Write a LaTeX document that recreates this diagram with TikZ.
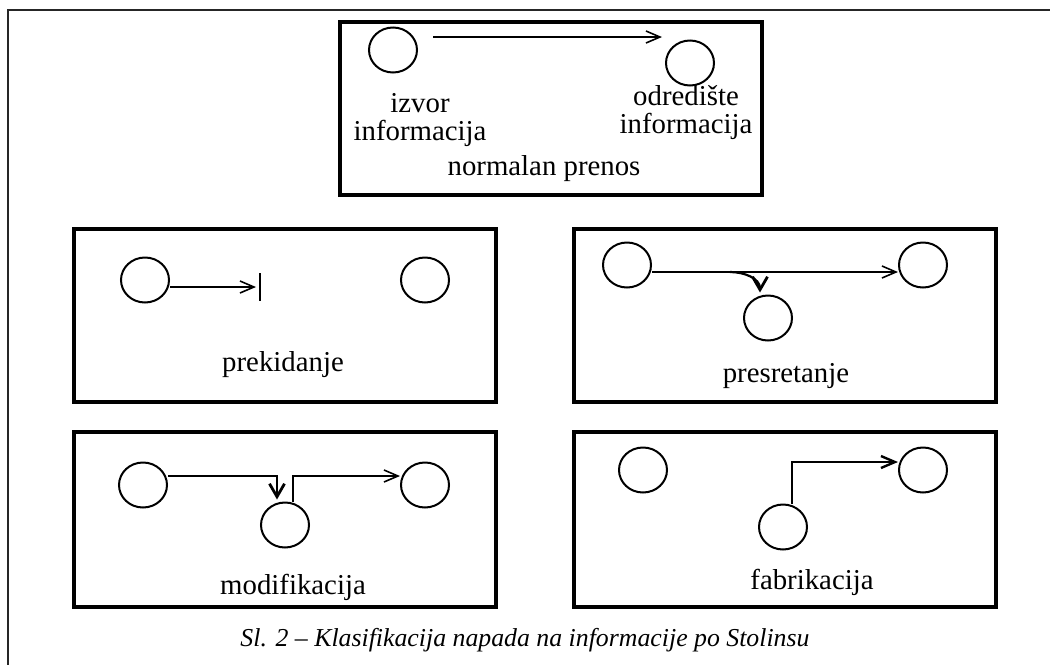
\documentclass[tikz,border=0pt]{standalone}
\usepackage{fontspec}
\setmainfont{Liberation Serif}
\usepackage{tikz}
\usetikzlibrary{arrows.meta,positioning,shapes.geometric}

\begin{document}
\begin{tikzpicture}[x=0.5pt, y=-0.5pt, font=\fontsize{14.4}{14}\selectfont]
    \tikzstyle{ring} = [ellipse, draw=black, line width=1pt, minimum width=24pt, minimum height=22.5pt, inner sep=0pt]
    \tikzstyle{panel} = [draw=black, line width=2.3pt]
    \tikzstyle{flow} = [draw, -{Straight Barb[length=7pt,width=6pt]}, line width=0.8pt]
    \tikzstyle{tap} = [draw, -{Straight Barb[length=6.5pt,width=7.5pt,line width=1.4pt]}, line width=1.1pt]
    \tikzstyle{label} = [inner sep=0pt, align=center]

    \useasboundingbox (0,0) rectangle (1050,665);
    \draw [line width=1pt, black!85] (1050,10) -- (8,10) -- (8,665);

    % normal transfer
    \draw [panel] (340,22) rectangle (762,195);
    \node [ring] (src) at (393,50) {};
    \node [ring] (dst) at (690,63) {};
    \draw [flow] ([shift={(15,-13)}]src.east) -- ([shift={(-3,-26)}]dst.west);
    \node [label] (srctext) at (420,120) {izvor\\informacija};
    \node [label] (dsttext) at (686,113) {odredište\\informacija};
    \node [label] (normal) at (544,169) {normalan prenos};

    % interruption
    \draw [panel] (74,229) rectangle (496,402);
    \node [ring] (p1) at (145,280) {};
    \node [ring] (p2) at (425,280) {};
    \coordinate (pstop) at (260,287);
    \draw [flow] ([yshift=-3.5pt]p1.east) -- ([xshift=-2pt]pstop);
    \draw [line width=1.2pt] ([yshift=7pt]pstop) -- ([yshift=-7pt]pstop);
    \node [label] (ptext) at (283,365) {prekidanje};

    % interception
    \draw [panel] (574,229) rectangle (996,402);
    \node [ring] (r1) at (627,265) {};
    \node [ring] (r2) at (923,265) {};
    \node [ring] (r3) at (768,318) {};
    \draw [flow] ([yshift=-3.5pt]r1.east) -- ([yshift=-3.5pt]r2.west);
    \coordinate (rtap) at (730,272);
    \draw [tap] (rtap) to[out=0, in=90] ([xshift=-4pt, yshift=1pt]r3.north);
    \node [label] (rtext) at (786,376) {presretanje};

    % modification
    \draw [panel] (74,432) rectangle (496,607);
    \node [ring] (m1) at (143,485) {};
    \node [ring] (m2) at (285,525) {};
    \node [ring] (m3) at (425,485) {};
    \draw [tap] ([yshift=4.5pt]m1.east) -| ([xshift=-4pt, yshift=1pt]m2.north);
    \draw [flow] ([xshift=4pt]m2.north) |- ([yshift=4.5pt]m3.west);
    \node [label] (mtext) at (293,587) {modifikacija};

    % fabrication
    \draw [panel] (574,432) rectangle (996,607);
    \node [ring] (f1) at (643,470) {};
    \node [ring] (f2) at (783,527) {};
    \node [ring] (f3) at (923,470) {};
    \draw [flow, line width=1.2pt] ([xshift=4.5pt]f2.north) |- ([yshift=4pt]f3.west);
    \node [label] (ftext) at (812,582) {fabrikacija};

    \node [label, font=\fontsize{12.9}{13}\selectfont\itshape] (caption) at (525,640) {Sl. 2 -- Klasifikacija napada na informacije po Stolinsu};
\end{tikzpicture}
\end{document}
